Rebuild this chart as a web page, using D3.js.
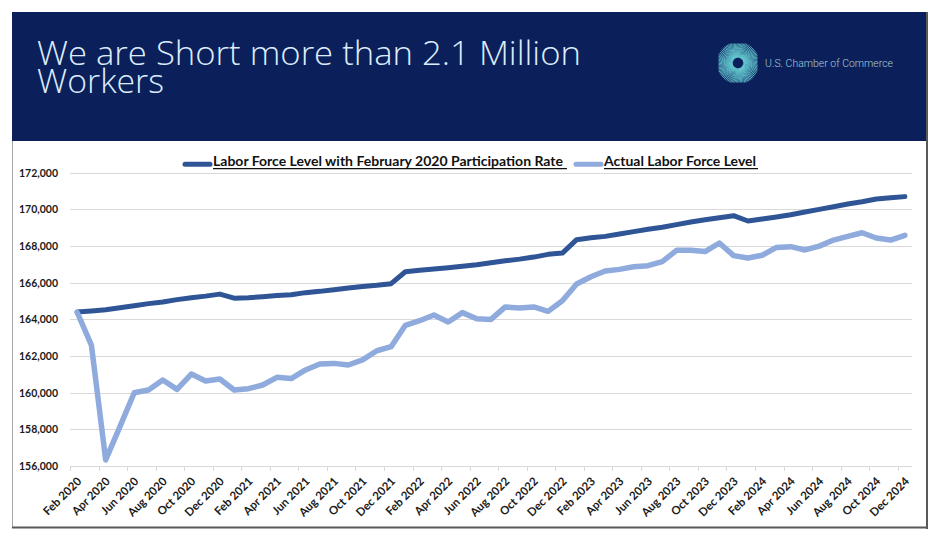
<!DOCTYPE html>
<html>
<head>
<meta charset="utf-8">
<script src="https://cdn.jsdelivr.net/npm/d3@7"></script>
<style>
  html, body { margin: 0; padding: 0; background: #ffffff; }
  svg { display: block; }
</style>
</head>
<body>
<svg id="chart" width="942" height="544"></svg>
<script>
// ---------------- DATA ----------------
const months = [
  "Feb 2020","Mar 2020","Apr 2020","May 2020","Jun 2020","Jul 2020","Aug 2020","Sep 2020","Oct 2020","Nov 2020","Dec 2020",
  "Jan 2021","Feb 2021","Mar 2021","Apr 2021","May 2021","Jun 2021","Jul 2021","Aug 2021","Sep 2021","Oct 2021","Nov 2021","Dec 2021",
  "Jan 2022","Feb 2022","Mar 2022","Apr 2022","May 2022","Jun 2022","Jul 2022","Aug 2022","Sep 2022","Oct 2022","Nov 2022","Dec 2022",
  "Jan 2023","Feb 2023","Mar 2023","Apr 2023","May 2023","Jun 2023","Jul 2023","Aug 2023","Sep 2023","Oct 2023","Nov 2023","Dec 2023",
  "Jan 2024","Feb 2024","Mar 2024","Apr 2024","May 2024","Jun 2024","Jul 2024","Aug 2024","Sep 2024","Oct 2024","Nov 2024","Dec 2024"
];
const tickLabels = [
  "Feb 2020","Apr 2020","Jun 2020","Aug 2020","Oct 2020","Dec 2020",
  "Feb 2021","Apr 2021","Jun 2021","Aug 2021","Oct 2021","Dec 2021",
  "Feb 2022","Apr 2022","Jun 2022","Aug 2022","Oct 2022","Dec 2022",
  "Feb 2023","Apr 2023","Jun 2023","Aug 2023","Oct 2023","Dec 2023",
  "Feb 2024","Apr 2024","Jun 2024","Aug 2024","Oct 2024","Dec 2024"
];
const participationSeries = [
  164400,164460,164530,164640,164750,164860,164950,165080,165180,165270,165380,
  165160,165180,165240,165310,165350,165460,165530,165620,165710,165790,165860,165950,
  166600,166680,166750,166820,166900,166985,167090,167200,167290,167400,167550,167620,
  168350,168450,168530,168660,168790,168915,169025,169170,169315,169440,169550,169660,
  169370,169480,169590,169715,169860,170005,170150,170300,170420,170570,170640,170700
];
const actualSeries = [
  164390,162600,156330,158150,160000,160150,160690,160180,161020,160640,160750,
  160150,160220,160420,160840,160770,161240,161570,161600,161510,161790,162290,162510,
  163680,163930,164240,163860,164370,164040,164000,164680,164620,164680,164440,165020,
  165930,166330,166640,166730,166870,166930,167150,167770,167770,167700,168170,167480,
  167350,167500,167930,167970,167790,168000,168330,168530,168730,168440,168330,168590
];
const yTicks = [156000,158000,160000,162000,164000,166000,168000,170000,172000];
const seriesNames = ["Labor Force Level with February 2020 Participation Rate", "Actual Labor Force Level"];
const titleLines = ["We are Short more than 2.1 Million", "Workers"];
const brandName = "U.S. Chamber of Commerce";

// ---------------- DRAW ----------------
const svg = d3.select("#chart");
const darkBlue = "#2f5597", lightBlue = "#8faadc";
const navy = "#0b1f5a";

// slide frame
svg.append("rect").attr("x", 12).attr("y", 12).attr("width", 915).attr("height", 516)
  .attr("fill", "#ffffff");
svg.append("rect").attr("x", 12).attr("y", 12).attr("width", 915).attr("height", 129)
  .attr("fill", navy);
svg.append("line").attr("x1", 12.5).attr("x2", 12.5).attr("y1", 141).attr("y2", 528)
  .attr("stroke", "#a6a6a6").attr("stroke-width", 1);
svg.append("line").attr("x1", 927).attr("x2", 927).attr("y1", 12).attr("y2", 529)
  .attr("stroke", "#595959").attr("stroke-width", 2);
svg.append("line").attr("x1", 12).attr("x2", 928).attr("y1", 527.5).attr("y2", 527.5)
  .attr("stroke", "#595959").attr("stroke-width", 2);

// title (one text element, two lines)
const titleW = [544, 127];
const title = svg.append("text")
  .attr("font-family", "'Open Sans', Lato, sans-serif")
  .attr("font-weight", 300)
  .attr("font-size", 33)
  .attr("fill", "#dcecfb");
titleLines.forEach((t, i) => {
  title.append("tspan")
    .attr("x", 37).attr("y", 65 + i * 28)
    .attr("textLength", titleW[i])
    .attr("lengthAdjust", "spacingAndGlyphs")
    .text(t);
});

// logo
const logo = svg.append("g").attr("transform", "translate(738,63)");
const nRays = 90;
for (let k = 0; k < nRays; k++) {
  const a = k * 2 * Math.PI / nRays;
  const b = a + 0.55;
  const r1 = 5.5;
  const r2 = 19.5 / Math.max(Math.abs(Math.cos(b)), Math.abs(Math.sin(b)), 0.82);
  logo.append("line")
    .attr("x1", r1 * Math.cos(a)).attr("y1", r1 * Math.sin(a))
    .attr("x2", Math.min(21, r2) * Math.cos(b)).attr("y2", Math.min(21, r2) * Math.sin(b))
    .attr("stroke", "#66cbd2").attr("stroke-width", 0.85);
}
logo.append("circle").attr("cx", 0).attr("cy", 0).attr("r", 4.5).attr("fill", navy);
svg.append("text")
  .attr("x", 765).attr("y", 67)
  .attr("font-family", "Roboto, 'Open Sans', sans-serif")
  .attr("font-weight", 300)
  .attr("font-size", 11)
  .attr("fill", "#a9cfd8")
  .attr("textLength", 128).attr("lengthAdjust", "spacingAndGlyphs")
  .text(brandName);

// scales
const x = d3.scaleBand().domain(months).range([70, 912]).paddingInner(0).paddingOuter(0);
const y = d3.scaleLinear().domain([156000, 172000]).range([466, 172.8]);
const cx = d => x(d) + x.bandwidth() / 2;

// gridlines
svg.append("g").selectAll("line").data(yTicks.filter(v => v !== 156000)).join("line")
  .attr("x1", 70).attr("x2", 912)
  .attr("y1", d => Math.round(y(d)) + 0.5).attr("y2", d => Math.round(y(d)) + 0.5)
  .attr("stroke", "#d9d9d9").attr("stroke-width", 1);

// y axis labels
const yAxis = d3.axisLeft(y).tickValues(yTicks).tickSize(0).tickPadding(0)
  .tickFormat(d3.format(","));
const yG = svg.append("g").attr("transform", "translate(58,0)").call(yAxis);
yG.select(".domain").remove();
yG.selectAll("text")
  .attr("font-family", "Lato, 'Open Sans', sans-serif")
  .attr("font-weight", 700)
  .attr("font-size", 10.5)
  .attr("fill", "#1a1a1a");

// x axis
const tickCats = months.filter((m, i) => i % 2 === 0);
const xAxis = d3.axisBottom(x).tickValues(tickCats).tickSize(0).tickFormat("");
const xG = svg.append("g").attr("transform", "translate(0,466)").call(xAxis);
xG.select(".domain").attr("stroke", "#d9d9d9").attr("stroke-width", 1.2)
  .attr("d", "M70,0.5H912");
svg.append("g").selectAll("line").data(tickCats).join("line")
  .attr("x1", d => Math.round(x(d)) + 0.5).attr("x2", d => Math.round(x(d)) + 0.5)
  .attr("y1", 466).attr("y2", 471)
  .attr("stroke", "#d9d9d9").attr("stroke-width", 1);
svg.append("g").selectAll("text").data(tickCats).join("text")
  .attr("transform", d => `translate(${cx(d) + 5},482) rotate(-45)`)
  .attr("text-anchor", "end")
  .attr("font-family", "Lato, 'Open Sans', sans-serif")
  .attr("font-weight", 700)
  .attr("font-size", 11.5)
  .attr("fill", "#1a1a1a")
  .text((d, i) => tickLabels[i]);

// lines
const line = d3.line().x((d, i) => cx(months[i])).y(d => y(d));
svg.append("path").datum(participationSeries)
  .attr("d", line).attr("fill", "none")
  .attr("stroke", darkBlue).attr("stroke-width", 5)
  .attr("stroke-linejoin", "round").attr("stroke-linecap", "round");
svg.append("path").datum(actualSeries)
  .attr("d", line).attr("fill", "none")
  .attr("stroke", lightBlue).attr("stroke-width", 5.5)
  .attr("stroke-linejoin", "round").attr("stroke-linecap", "round");

// legend
const legendItems = [
  { name: seriesNames[0], color: darkBlue, sx: 185, sx2: 210, tx: 213, tw: 350, ux2: 567 },
  { name: seriesNames[1], color: lightBlue, sx: 576, sx2: 601, tx: 604, tw: 152, ux2: 758 }
];
const lg = svg.append("g");
legendItems.forEach(it => {
  lg.append("line").attr("x1", it.sx).attr("x2", it.sx2).attr("y1", 164.3).attr("y2", 164.3)
    .attr("stroke", it.color).attr("stroke-width", 5).attr("stroke-linecap", "round");
  lg.append("text").attr("x", it.tx).attr("y", 166)
    .attr("font-family", "Lato, 'Open Sans', sans-serif")
    .attr("font-weight", 700).attr("font-size", 13.5)
    .attr("fill", "#111111")
    .attr("textLength", it.tw).attr("lengthAdjust", "spacingAndGlyphs")
    .text(it.name);
  lg.append("line").attr("x1", it.tx).attr("x2", it.ux2).attr("y1", 168.6).attr("y2", 168.6)
    .attr("stroke", "#111111").attr("stroke-width", 1.3);
});
</script>
</body>
</html>
